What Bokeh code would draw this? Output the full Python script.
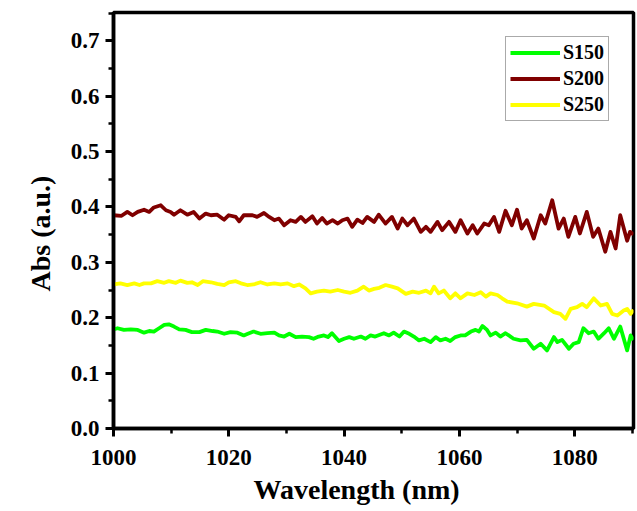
import math
from bokeh.plotting import figure
from bokeh.models import (Range1d, SingleIntervalTicker, PrintfTickFormatter,
                          Title, Legend, LegendItem)
from bokeh.embed import file_html
from bokeh.resources import INLINE

# ---------------- data ----------------
series_names = ["S150", "S200", "S250"]
series_colors = ["#00FF00", "#800000", "#FFFF00"]

wl_s150 = [1000.0, 1000.7, 1001.8, 1003.0, 1004.2, 1005.3, 1006.2, 1007.0, 1007.9, 1008.8,
           1009.6, 1010.5, 1011.4, 1012.5, 1013.6, 1014.9, 1016.0, 1017.2, 1018.0, 1019.2,
           1020.3, 1021.5, 1022.6, 1023.3, 1024.3, 1025.5, 1026.7, 1027.9, 1028.7, 1029.6,
           1030.5, 1031.6, 1032.7, 1033.9, 1034.7, 1035.6, 1036.5, 1037.2, 1037.9, 1039.1,
           1040.0, 1040.9, 1041.7, 1042.9, 1043.7, 1044.6, 1045.4, 1046.9, 1047.8, 1048.6,
           1049.6, 1050.4, 1051.3, 1052.1, 1053.0, 1053.9, 1055.0, 1055.9, 1056.7, 1057.6,
           1058.4, 1059.3, 1060.2, 1061.0, 1062.0, 1062.8, 1063.4, 1064.0, 1064.8, 1065.4,
           1066.3, 1067.1, 1068.0, 1069.4, 1070.6, 1071.7, 1072.9, 1074.1, 1075.2, 1076.4,
           1077.0, 1077.8, 1079.0, 1079.8, 1080.7, 1081.5, 1082.4, 1083.3, 1084.1, 1085.1,
           1085.9, 1086.8, 1087.9, 1089.1, 1089.7, 1090.2]
abs_s150 = [0.179, 0.181, 0.178, 0.179, 0.178, 0.173, 0.176, 0.175, 0.181, 0.187,
            0.188, 0.184, 0.179, 0.178, 0.174, 0.174, 0.178, 0.176, 0.175, 0.171,
            0.174, 0.173, 0.168, 0.171, 0.175, 0.171, 0.172, 0.173, 0.168, 0.166,
            0.171, 0.165, 0.166, 0.165, 0.162, 0.166, 0.168, 0.165, 0.172, 0.158,
            0.162, 0.165, 0.162, 0.166, 0.162, 0.168, 0.166, 0.172, 0.168, 0.173,
            0.166, 0.175, 0.171, 0.166, 0.159, 0.162, 0.156, 0.165, 0.159, 0.162,
            0.158, 0.165, 0.168, 0.168, 0.175, 0.178, 0.175, 0.185, 0.178, 0.168,
            0.173, 0.166, 0.172, 0.162, 0.159, 0.160, 0.144, 0.153, 0.141, 0.165,
            0.156, 0.160, 0.144, 0.153, 0.156, 0.181, 0.172, 0.175, 0.162, 0.172,
            0.181, 0.162, 0.184, 0.141, 0.168, 0.160]

wl_s200 = [1000.0, 1001.4, 1002.4, 1003.3, 1004.2, 1005.3, 1006.2, 1007.0, 1008.2, 1009.1,
           1009.9, 1010.5, 1011.6, 1012.8, 1013.9, 1014.9, 1016.0, 1016.9, 1018.0, 1019.2,
           1020.0, 1021.2, 1021.8, 1022.6, 1024.1, 1024.9, 1026.1, 1027.0, 1027.9, 1028.7,
           1029.6, 1030.7, 1031.6, 1032.5, 1033.3, 1034.5, 1035.3, 1036.2, 1037.0, 1038.0,
           1038.9, 1039.7, 1040.6, 1041.4, 1042.3, 1043.2, 1044.0, 1045.2, 1046.0, 1047.2,
           1048.3, 1049.3, 1050.1, 1051.0, 1052.1, 1053.3, 1054.2, 1055.0, 1056.2, 1057.0,
           1058.2, 1059.3, 1060.2, 1061.4, 1062.3, 1063.1, 1064.3, 1065.1, 1066.0, 1066.9,
           1068.0, 1069.1, 1070.0, 1070.8, 1071.7, 1072.9, 1074.1, 1074.9, 1076.1, 1077.2,
           1078.1, 1078.9, 1080.1, 1080.9, 1082.1, 1083.2, 1084.1, 1085.3, 1086.2, 1087.1,
           1087.9, 1089.1, 1089.6, 1090.2]
abs_s200 = [0.385, 0.384, 0.391, 0.385, 0.391, 0.395, 0.391, 0.399, 0.403, 0.394,
            0.391, 0.386, 0.394, 0.386, 0.391, 0.379, 0.388, 0.385, 0.386, 0.377,
            0.385, 0.382, 0.374, 0.385, 0.385, 0.382, 0.389, 0.382, 0.376, 0.379,
            0.367, 0.376, 0.373, 0.382, 0.373, 0.383, 0.370, 0.380, 0.370, 0.376,
            0.370, 0.376, 0.379, 0.364, 0.377, 0.371, 0.382, 0.373, 0.386, 0.370,
            0.382, 0.361, 0.379, 0.367, 0.379, 0.355, 0.364, 0.355, 0.373, 0.358,
            0.373, 0.355, 0.376, 0.352, 0.367, 0.352, 0.370, 0.367, 0.382, 0.355,
            0.393, 0.367, 0.395, 0.361, 0.376, 0.343, 0.385, 0.370, 0.412, 0.361,
            0.379, 0.346, 0.382, 0.352, 0.391, 0.346, 0.361, 0.319, 0.355, 0.325,
            0.385, 0.339, 0.355, 0.350]

wl_s250 = [1000.0, 1001.2, 1002.4, 1003.6, 1004.5, 1005.3, 1006.5, 1007.6, 1008.8, 1009.6,
           1010.8, 1011.6, 1012.8, 1013.6, 1014.6, 1015.5, 1016.9, 1018.0, 1019.2, 1020.0,
           1021.2, 1022.1, 1023.2, 1024.3, 1025.5, 1026.7, 1027.9, 1029.0, 1030.2, 1031.3,
           1032.2, 1033.3, 1034.2, 1035.3, 1036.5, 1037.6, 1038.9, 1040.0, 1041.1, 1042.3,
           1043.4, 1044.3, 1045.2, 1046.1, 1047.2, 1048.3, 1049.3, 1050.7, 1051.9, 1053.0,
           1054.2, 1055.0, 1055.6, 1056.4, 1057.3, 1058.4, 1059.3, 1060.2, 1061.4, 1062.6,
           1063.7, 1064.6, 1065.4, 1066.6, 1067.4, 1068.3, 1070.0, 1071.7, 1072.9, 1074.7,
           1076.4, 1077.5, 1078.4, 1079.3, 1080.4, 1081.3, 1082.1, 1083.3, 1084.5, 1085.6,
           1086.5, 1087.4, 1088.5, 1089.1, 1089.7, 1090.2]
abs_s250 = [0.260, 0.262, 0.259, 0.262, 0.259, 0.262, 0.262, 0.266, 0.263, 0.266,
            0.263, 0.267, 0.263, 0.264, 0.259, 0.266, 0.264, 0.261, 0.259, 0.264,
            0.266, 0.262, 0.259, 0.260, 0.264, 0.260, 0.262, 0.260, 0.262, 0.257,
            0.260, 0.253, 0.244, 0.247, 0.249, 0.247, 0.250, 0.247, 0.245, 0.249,
            0.256, 0.249, 0.252, 0.254, 0.259, 0.256, 0.253, 0.243, 0.247, 0.245,
            0.249, 0.244, 0.256, 0.244, 0.249, 0.235, 0.244, 0.235, 0.244, 0.241,
            0.246, 0.238, 0.244, 0.241, 0.235, 0.229, 0.226, 0.220, 0.225, 0.222,
            0.210, 0.207, 0.198, 0.216, 0.219, 0.225, 0.219, 0.235, 0.222, 0.225,
            0.207, 0.204, 0.213, 0.216, 0.207, 0.214]

x_title = "Wavelength (nm)"
y_title = "Abs (a.u.)"

# ---------------- figure ----------------
FONT = "Liberation Serif"

p = figure(width=636, height=510, output_backend="svg", toolbar_location=None,
           x_range=Range1d(1000, 1090.2), y_range=Range1d(0, 0.751),
           min_border_left=113, min_border_right=3, min_border_top=12, min_border_bottom=82)
p.background_fill_color = "white"
p.border_fill_color = "white"
p.outline_line_color = "black"
p.outline_line_width = 3.5
p.grid.visible = False

xs = [wl_s150, wl_s200, wl_s250]
ys = [abs_s150, abs_s200, abs_s250]
renderers = []
for x, y, c in zip(xs, ys, series_colors):
    r = p.line(x, y, line_color=c, line_width=3.8, line_join="round")
    renderers.append(r)

for ax in (p.xaxis[0], p.yaxis[0]):
    ax.axis_line_width = 3.5
    ax.axis_line_color = "black"
    ax.major_tick_line_width = 3
    ax.minor_tick_line_width = 2.5
    ax.major_tick_in = 0
    ax.major_tick_out = 8
    ax.minor_tick_in = 0
    ax.minor_tick_out = 5
    ax.major_label_text_font = FONT
    ax.major_label_text_font_style = "bold"
    ax.major_label_text_font_size = "23px"
    ax.major_label_text_color = "black"

p.xaxis[0].ticker = SingleIntervalTicker(interval=20, num_minor_ticks=2)
p.yaxis[0].ticker = SingleIntervalTicker(interval=0.1, num_minor_ticks=2)
p.yaxis[0].formatter = PrintfTickFormatter(format="%.1f")
p.xaxis[0].major_label_standoff = 13
p.yaxis[0].major_label_standoff = 6

# axis titles (as side titles, so they are not clipped and can be placed off-centre)
p.add_layout(Title(text=x_title, align="left", offset=140, standoff=9,
                   text_font=FONT, text_font_style="bold", text_font_size="28px",
                   text_color="black"), "below")
p.add_layout(Title(text=y_title, align="left", offset=137, standoff=24,
                   text_font=FONT, text_font_style="bold", text_font_size="28px",
                   text_color="black"), "left")

legend = Legend(items=[LegendItem(label=n, renderers=[r]) for n, r in zip(series_names, renderers)],
                location=(392, 307))
legend.label_text_font = FONT
legend.label_text_font_style = "bold"
legend.label_text_font_size = "20px"
legend.label_text_color = "black"
legend.glyph_width = 50
legend.glyph_height = 23
legend.label_height = 23
legend.label_standoff = 3
legend.spacing = 3
legend.padding = 4
legend.margin = 0
legend.border_line_color = "#555555"
legend.border_line_width = 1
legend.background_fill_color = "white"
legend.background_fill_alpha = 1
p.add_layout(legend)

open("out.html", "w").write(file_html(p, INLINE))
